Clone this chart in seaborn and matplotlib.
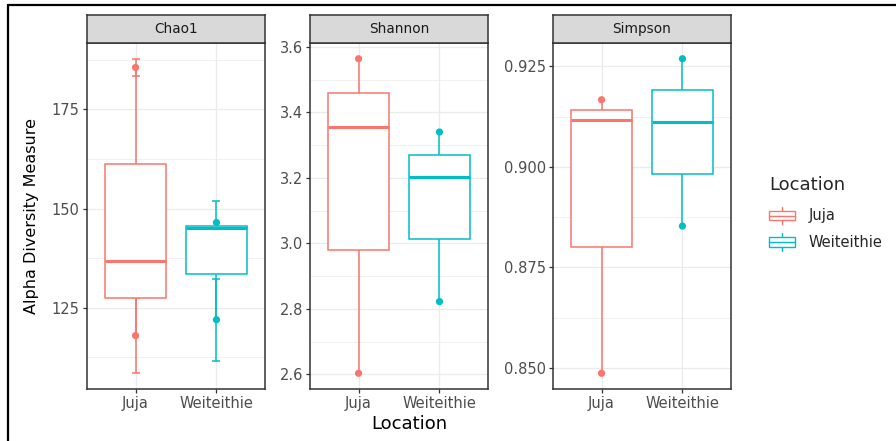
import numpy as np
import pandas as pd
import matplotlib
matplotlib.use("Agg")
import matplotlib.pyplot as plt
import seaborn as sns
from matplotlib.lines import Line2D
from matplotlib.patches import Patch, Rectangle
from matplotlib.legend_handler import HandlerBase
from matplotlib.ticker import AutoMinorLocator, FormatStrFormatter

# ---------------- data ----------------
locations = ["Juja", "Weiteithie"]
metrics = ["Chao1", "Shannon", "Simpson"]

chao1_juja = [118.0, 136.8, 185.6]
chao1_juja_se = [9.5, 3.0, 2.2]
chao1_weit = [122.0, 145.0, 146.5]
chao1_weit_se = [10.3, 0.5, 5.5]

shannon_juja = [2.603, 3.356, 3.564]
shannon_weit = [2.822, 3.2025, 3.340]

simpson_juja = [0.8487, 0.9117, 0.9167]
simpson_weit = [0.8853, 0.9112, 0.9269]

chao1_ticks = [125, 150, 175]
shannon_ticks = [2.6, 2.8, 3.0, 3.2, 3.4, 3.6]
simpson_ticks = [0.850, 0.875, 0.900, 0.925]

palette = {"Juja": "#F8766D", "Weiteithie": "#00BFC4"}

# ---------------- long table ----------------
rows = []
def add(metric, loc, vals, se=None):
    for i, v in enumerate(vals):
        rows.append({"metric": metric, "Location": loc, "value": v,
                     "se": (se[i] if se is not None else np.nan)})

add("Chao1", "Juja", chao1_juja, chao1_juja_se)
add("Chao1", "Weiteithie", chao1_weit, chao1_weit_se)
add("Shannon", "Juja", shannon_juja)
add("Shannon", "Weiteithie", shannon_weit)
add("Simpson", "Juja", simpson_juja)
add("Simpson", "Weiteithie", simpson_weit)
df = pd.DataFrame(rows)

ticks = {"Chao1": chao1_ticks, "Shannon": shannon_ticks, "Simpson": simpson_ticks}
fmts = {"Chao1": "%d", "Shannon": "%.1f", "Simpson": "%.3f"}

# ---------------- figure ----------------
sns.set_theme(style="white")
plt.rcParams["font.family"] = ["DejaVu Sans"]

W, H = 896, 441
fig = plt.figure(figsize=(W / 100, H / 100), dpi=100)
fig.patch.set_facecolor("white")

panel_left = [87, 310, 553]
panel_w = 178
panel_top, panel_bot, strip_top = 43, 389, 15

border_col = "#333333"
grid_col = "#EBEBEB"

for k, metric in enumerate(metrics):
    x0 = panel_left[k]
    ax = fig.add_axes([x0 / W, (H - panel_bot) / H, panel_w / W, (panel_bot - panel_top) / H])
    sub = df[df["metric"] == metric]

    # points first (boxes will hide the ones inside)
    sns.stripplot(data=sub, x="Location", y="value", hue="Location", order=locations,
                  hue_order=locations, palette=palette, jitter=False, size=5.2,
                  linewidth=0, legend=False, ax=ax, zorder=2)

    # error bars (Chao1 only)
    if metric == "Chao1":
        for loc in locations:
            s = sub[sub["Location"] == loc]
            xpos = np.full(len(s), locations.index(loc), dtype=float)
            ax.errorbar(xpos, s["value"].values, yerr=s["se"].values, fmt="none",
                        ecolor=palette[loc], elinewidth=1.1, capsize=3.2,
                        capthick=1.1, zorder=2)

    n_patches = len(ax.patches)
    n_lines = len(ax.lines)
    for loc in locations:
        s = sub[sub["Location"] == loc]
        sns.boxplot(data=s, x="Location", y="value", order=locations, color="white",
                    linecolor=palette[loc], saturation=1, width=0.75, whis=(0, 100),
                    showcaps=False, showfliers=False, linewidth=1.1,
                    medianprops=dict(linewidth=2.2), ax=ax)
    for p in ax.patches[n_patches:]:
        p.set_zorder(3)
        p.set_facecolor("white")
    for ln in ax.lines[n_lines:]:
        ln.set_zorder(3.5)

    # limits (ggplot-like 5% expansion)
    lo = np.nanmin(sub["value"] - sub["se"].fillna(0))
    hi = np.nanmax(sub["value"] + sub["se"].fillna(0))
    pad = 0.05 * (hi - lo)
    ax.set_ylim(lo - pad, hi + pad)
    ax.set_xlim(-0.6, 1.6)

    ax.set_yticks(ticks[metric])
    ax.yaxis.set_major_formatter(FormatStrFormatter(fmts[metric]))
    ax.yaxis.set_minor_locator(AutoMinorLocator(2))
    ax.set_xticks(range(len(locations)))
    ax.set_xticklabels(locations)
    ax.set_xlabel("")
    ax.set_ylabel("")

    ax.set_axisbelow(True)
    ax.grid(True, which="major", color=grid_col, linewidth=0.9)
    ax.grid(True, which="minor", axis="y", color=grid_col, linewidth=0.5)
    ax.tick_params(axis="both", which="major", length=3.2, width=0.9, color=border_col,
                   labelcolor="#4D4D4D", labelsize=10.5, pad=2, left=True, bottom=True)
    ax.tick_params(axis="y", which="minor", length=0)
    for sp in ax.spines.values():
        sp.set_color(border_col)
        sp.set_linewidth(1.1)
        sp.set_visible(True)

    # strip
    sax = fig.add_axes([x0 / W, (H - panel_top) / H, panel_w / W, (panel_top - strip_top) / H])
    sax.set_facecolor("#D9D9D9")
    sax.set_xticks([])
    sax.set_yticks([])
    for sp in sax.spines.values():
        sp.set_color(border_col)
        sp.set_linewidth(1.1)
    sax.text(0.5, 0.5, metric, ha="center", va="center", fontsize=9.8,
             color="#1A1A1A", transform=sax.transAxes)

# axis titles
fig.text((87 + 731) / 2 / W, 1 - 424 / H, "Location", ha="center", va="center",
         fontsize=13, color="black")
fig.text(32 / W, 1 - 216 / H, "Alpha Diversity Measure", ha="center", va="center",
         rotation=90, fontsize=11.5, color="black")


# legend with boxplot-like keys
class BoxHandler(HandlerBase):
    def create_artists(self, legend, orig_handle, xdescent, ydescent, width, height,
                       fontsize, trans):
        c = orig_handle.get_edgecolor()
        x0, y0 = -xdescent, -ydescent
        rect = Rectangle((x0, y0 + 0.24 * height), width, 0.52 * height,
                         facecolor="white", edgecolor=c, lw=1.0, transform=trans)
        med = Line2D([x0, x0 + width], [y0 + 0.5 * height] * 2, color=c, lw=1.0,
                     transform=trans)
        w1 = Line2D([x0 + width / 2] * 2, [y0, y0 + 0.24 * height], color=c, lw=1.0,
                    transform=trans)
        w2 = Line2D([x0 + width / 2] * 2, [y0 + 0.76 * height, y0 + height], color=c,
                    lw=1.0, transform=trans)
        return [w1, w2, rect, med]


handles = [Patch(facecolor="white", edgecolor=palette[l]) for l in locations]
leg = fig.legend(handles, locations, title="Location", loc="upper left",
                 bbox_to_anchor=(756 / W, 1 - 163 / H), frameon=False, fontsize=10.5,
                 title_fontsize=13, handler_map={Patch: BoxHandler()},
                 handlelength=1.8, handleheight=1.5, labelspacing=0.6,
                 handletextpad=0.9, alignment="left")
try:
    leg._legend_box.sep = 9
except Exception:
    pass

# screenshot frame (left and top edges)
fig.add_artist(Line2D([8 / W, 8 / W], [0, 1 - 5 / H], transform=fig.transFigure,
                      color="black", lw=1.6))
fig.add_artist(Line2D([8 / W, 1], [1 - 5 / H, 1 - 5 / H], transform=fig.transFigure,
                      color="black", lw=1.6))

fig.savefig("out.png", dpi=100)
